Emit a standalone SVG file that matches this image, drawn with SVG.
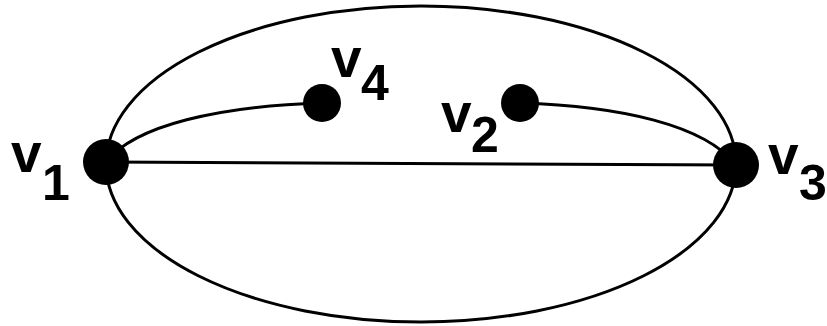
<svg xmlns="http://www.w3.org/2000/svg" width="827" height="326" viewBox="0 0 827 326">
<style>
.e{fill:none;stroke:#000;stroke-width:3}
.n{fill:#000}
.l{font-family:"Liberation Sans",Arial,sans-serif;font-weight:bold;font-size:50px;fill:#000}
.v{font-size:55px}
</style>
<rect width="827" height="326" fill="#fff"/>
<g id="connectors">
<ellipse class="e" cx="421" cy="164" rx="315" ry="158"/>
<line class="e" x1="106" y1="162" x2="736" y2="165"/>
<path class="e" d="M106,162 C135,125 220,106 322,103"/>
<path class="e" d="M520,103 C620,106 705,125 736,165"/>
</g>
<g id="v1"><circle class="n" cx="106" cy="162" r="23"/><text class="l v" x="11" y="172">v</text><text class="l" x="42" y="200">1</text></g>
<g id="v3"><circle class="n" cx="736" cy="165" r="23"/><text class="l v" x="768" y="174">v</text><text class="l" x="799" y="200">3</text></g>
<g id="v4"><circle class="n" cx="322" cy="103" r="19"/><text class="l v" x="331" y="77">v</text><text class="l" x="361" y="100">4</text></g>
<g id="v2"><circle class="n" cx="520" cy="103" r="19"/><text class="l v" x="441" y="132">v</text><text class="l" x="471" y="152">2</text></g>
</svg>
